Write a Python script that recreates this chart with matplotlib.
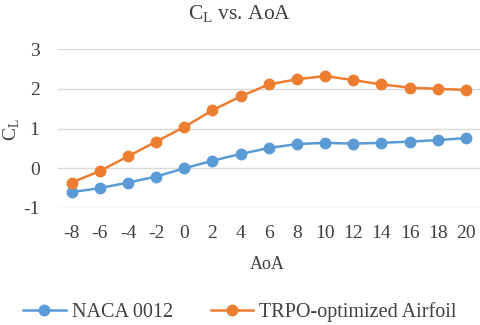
import matplotlib.pyplot as plt

aoa = [-8, -6, -4, -2, 0, 2, 4, 6, 8, 10, 12, 14, 16, 18, 20]
cl_naca = [-0.60, -0.50, -0.36, -0.21, 0.0, 0.19, 0.36, 0.51, 0.61, 0.64, 0.62, 0.64, 0.67, 0.71, 0.76]
cl_trpo = [-0.36, -0.07, 0.30, 0.67, 1.04, 1.46, 1.81, 2.11, 2.24, 2.32, 2.22, 2.11, 2.03, 2.00, 1.97]

plt.rcParams['font.family'] = ['Liberation Serif', 'DejaVu Serif']
plt.rcParams['axes.unicode_minus'] = False

fig = plt.figure(figsize=(4.8, 3.25), dpi=100)
ax = fig.add_axes([0.12, 0.36, 0.88, 0.489])

blue = '#5B9BD5'
orange = '#ED7D31'
ax.plot(aoa, cl_naca, color=blue, lw=1.8, marker='o', ms=7.5, label='NACA 0012')
ax.plot(aoa, cl_trpo, color=orange, lw=1.8, marker='o', ms=7.5, label='TRPO-optimized Airfoil')

ax.set_xlim(-9, 21)
ax.set_ylim(-1, 3)
ax.set_xticks(aoa)
ax.set_yticks([-1, 0, 1, 2, 3])
ax.grid(axis='y', color='#D9D9D9', lw=1)
ax.set_axisbelow(True)
for s in ax.spines.values():
    s.set_visible(False)
ax.tick_params(length=0, labelsize=14, colors='#404040')
ax.tick_params(axis='x', pad=12)
ax.tick_params(axis='y', pad=13)

fig.text(0.5, 0.955, r'C$_\mathregular{L}$ vs. AoA', ha='center', va='center',
         fontsize=15.5, color='#404040')
fig.text(0.556, 0.185, 'AoA', ha='center', va='center', fontsize=13, color='#404040')
fig.text(0.024, 0.6, r'C$_\mathregular{L}$', ha='center', va='center', rotation=90,
         fontsize=14, color='#404040')

leg = fig.legend(loc='center', bbox_to_anchor=(0.5, 0.04), ncol=2, frameon=False,
                 fontsize=14.5, handlelength=2.1, columnspacing=1.9, handletextpad=0.3)
for t in leg.get_texts():
    t.set_color('#404040')

fig.savefig('out.png', dpi=100)
